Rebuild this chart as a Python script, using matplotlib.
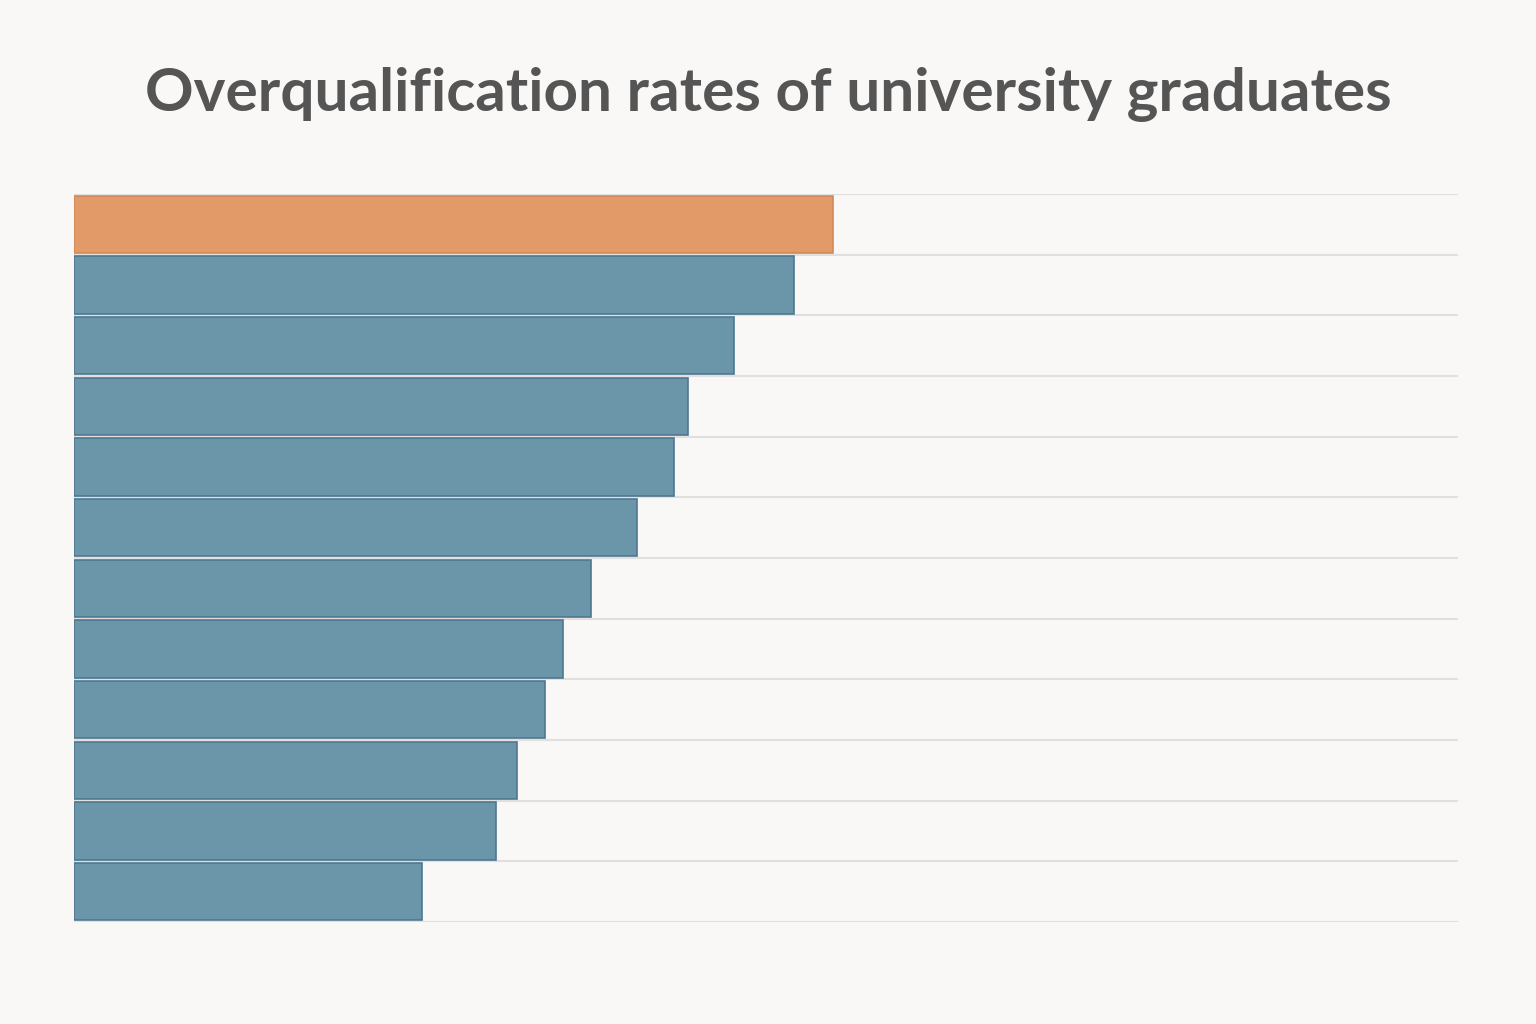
import numpy as np
import matplotlib.pyplot as plt

# values (% of graduates, axis 0-60)
countries = ["1", "2", "3", "4", "5", "6", "7", "8", "9", "10", "11", "12"]
rates = [32.9, 31.2, 28.6, 26.6, 26.0, 24.4, 22.4, 21.2, 20.4, 19.2, 18.3, 15.1]
highlight = 0

bg = "#faf8f6"
blue = "#6b95a8"
orange = "#e19a68"

fig = plt.figure(figsize=(15.36, 10.24), dpi=100, facecolor=bg)
ax = fig.add_axes([74 / 1536, 1 - 922 / 1024, (1458 - 74) / 1536, (922 - 194) / 1024])
ax.set_facecolor(bg)

y = np.arange(len(rates))
colors = [orange if i == highlight else blue for i in y]
edges = ["#d08a58" if i == highlight else "#4f7890" for i in y]
ax.barh(y, rates, height=0.94, color=colors, edgecolor=edges, linewidth=1.2, zorder=3)

ax.set_xlim(0, 60)
ax.set_ylim(len(rates) - 0.5, -0.5)
ax.set_yticks(np.arange(-0.5, len(rates), 1))
ax.set_yticklabels([])
ax.set_xticks([])
ax.tick_params(left=False, bottom=False)
ax.grid(axis="y", color="#e2e0de", linewidth=1.5, zorder=0)
for s in ax.spines.values():
    s.set_visible(False)

fig.text(0.5, 1 - 94 / 1024, "Overqualification rates of university graduates",
         ha="center", va="center", fontsize=43.4, fontweight="bold",
         family="Lato", color="#555555")

plt.savefig("out.png", dpi=100, facecolor=bg)
